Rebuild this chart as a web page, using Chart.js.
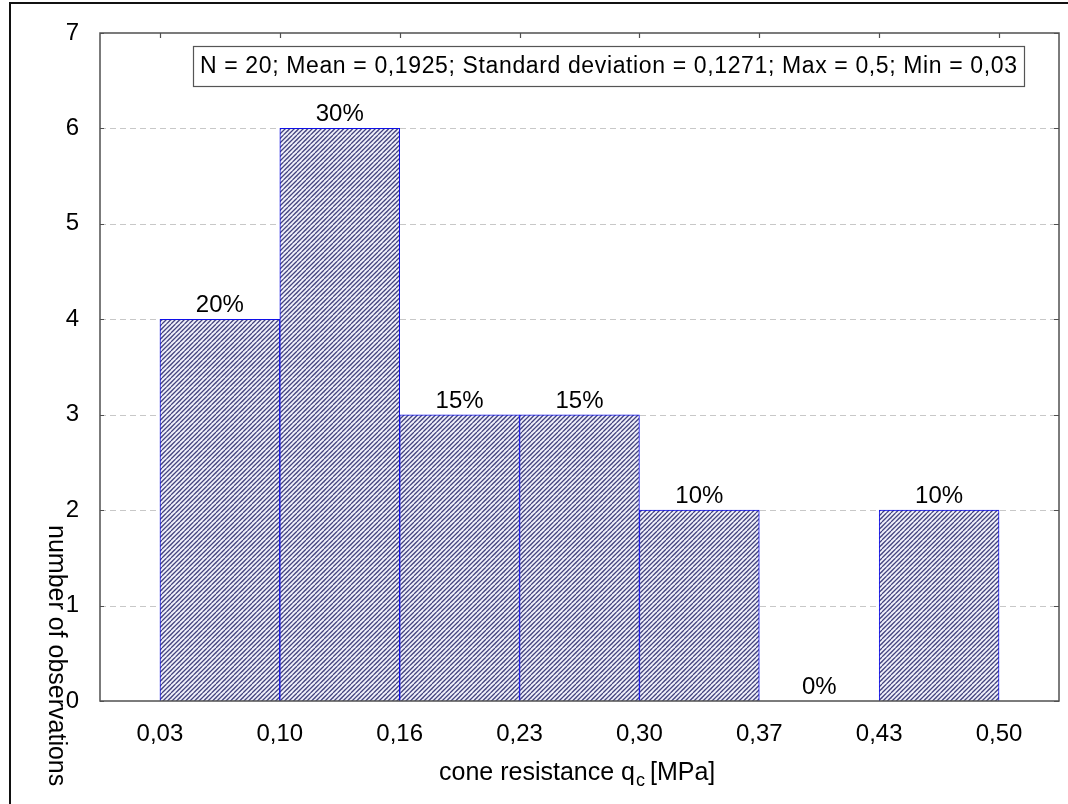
<!DOCTYPE html>
<html>
<head>
<meta charset="utf-8">
<script src="https://cdn.jsdelivr.net/npm/chart.js@4.4.1/dist/chart.umd.min.js"></script>
<style>
  html, body { margin: 0; padding: 0; background: #ffffff; }
  #wrap { width: 1068px; height: 804px; position: relative; }
</style>
</head>
<body>
<div id="wrap"><canvas id="hist" width="1068" height="804"></canvas></div>
<script>
// Histogram of cone resistance: bin edges, counts per bin, y ticks
const binEdgeLabels = ['0,03', '0,10', '0,16', '0,23', '0,30', '0,37', '0,43', '0,50'];
const binCounts = [4, 6, 3, 3, 2, 0, 2];
const yTickValues = [0, 1, 2, 3, 4, 5, 6, 7];
const statsText = 'N = 20; Mean = 0,1925; Standard deviation = 0,1271; Max = 0,5; Min = 0,03';
const xTitleMain = 'cone resistance q';
const xTitleSub = 'c';
const xTitleTail = '[MPa]';
const yTitle = 'number of observations';

const FONT = '"Liberation Sans", Arial, sans-serif';
const totalCount = binCounts.reduce((a, b) => a + b, 0);

// Diagonal hatch fill for the bars
function makeHatch() {
  const t = document.createElement('canvas');
  const s = 9;
  t.width = s; t.height = s;
  const c = t.getContext('2d');
  c.fillStyle = '#f1f1fb';
  c.fillRect(0, 0, s, s);
  c.strokeStyle = '#44447e';
  c.lineWidth = 1.25;
  for (let k = -s; k <= s; k += s / 2) {
    c.beginPath();
    c.moveTo(k, s);
    c.lineTo(k + s, 0);
    c.stroke();
  }
  return c.createPattern(t, 'repeat');
}

// Draws text char by char so it spans a given width
function drawSpread(ctx, text, x, y, width) {
  let natural = 0;
  for (const ch of text) natural += ctx.measureText(ch).width;
  const extra = text.length > 1 ? (width - natural) / (text.length - 1) : 0;
  let cx = x;
  for (const ch of text) {
    ctx.fillText(ch, cx, y);
    cx += ctx.measureText(ch).width + extra;
  }
}

const gridPlugin = {
  id: 'dashedGrid',
  beforeDatasetsDraw(chart) {
    const { ctx, chartArea, scales } = chart;
    ctx.save();
    ctx.strokeStyle = '#c8c8c8';
    ctx.lineWidth = 1;
    ctx.setLineDash([6, 4]);
    yTickValues.forEach(v => {
      if (v === yTickValues[0] || v === yTickValues[yTickValues.length - 1]) return;
      const y = Math.round(scales.y.getPixelForValue(v)) + 0.5;
      ctx.beginPath();
      ctx.moveTo(chartArea.left, y);
      ctx.lineTo(chartArea.right, y);
      ctx.stroke();
    });
    ctx.restore();
  }
};

const decorPlugin = {
  id: 'decor',
  afterDatasetsDraw(chart) {
    const { ctx, chartArea, scales } = chart;
    const L = chartArea.left, R = chartArea.right, T = chartArea.top, B = chartArea.bottom;
    ctx.save();

    // percentage labels above bars
    const meta = chart.getDatasetMeta(0);
    ctx.fillStyle = '#000';
    ctx.font = '24px ' + FONT;
    ctx.textAlign = 'center';
    ctx.textBaseline = 'alphabetic';
    meta.data.forEach((bar, i) => {
      const pct = Math.round(binCounts[i] / totalCount * 100) + '%';
      ctx.fillText(pct, bar.x, bar.y - 7);
    });

    // plot frame
    ctx.strokeStyle = '#505050';
    ctx.lineWidth = 1.5;
    ctx.strokeRect(L, T, R - L, B - T);

    // inward ticks
    ctx.lineWidth = 1.2;
    ctx.beginPath();
    binEdgeLabels.forEach((_, i) => {
      const x = Math.round(scales.x.getPixelForValue(i)) + 0.5;
      ctx.moveTo(x, T); ctx.lineTo(x, T + 5);
    });
    yTickValues.forEach(v => {
      const y = Math.round(scales.y.getPixelForValue(v)) + 0.5;
      ctx.moveTo(L, y); ctx.lineTo(L + 4, y);
      ctx.moveTo(R, y); ctx.lineTo(R - 5, y);
    });
    ctx.stroke();

    // statistics box
    const bx = 193, by = 46, bw = 831, bh = 40;
    ctx.fillStyle = '#fff';
    ctx.fillRect(bx, by, bw, bh);
    ctx.strokeStyle = '#555';
    ctx.lineWidth = 1.2;
    ctx.strokeRect(bx + 0.5, by + 0.5, bw, bh);
    ctx.fillStyle = '#000';
    ctx.font = '23px ' + FONT;
    ctx.textAlign = 'left';
    ctx.textBaseline = 'middle';
    drawSpread(ctx, statsText, 200, 67, 817);

    // x axis title with subscript
    ctx.textBaseline = 'alphabetic';
    ctx.font = '25px ' + FONT;
    const x0 = 439;
    ctx.fillText(xTitleMain, x0, 780);
    const wMain = ctx.measureText(xTitleMain).width;
    ctx.font = '18px ' + FONT;
    ctx.fillText(xTitleSub, x0 + wMain + 1, 786);
    const wSub = ctx.measureText(xTitleSub).width;
    ctx.font = '25px ' + FONT;
    ctx.fillText(xTitleTail, x0 + wMain + wSub + 6, 780);

    // y axis title, reading downwards
    ctx.translate(49, 525);
    ctx.rotate(Math.PI / 2);
    ctx.font = '25px ' + FONT;
    ctx.textBaseline = 'alphabetic';
    ctx.fillText(yTitle, 0, 0);
    ctx.restore();

    // outer border lines
    ctx.save();
    ctx.strokeStyle = '#111';
    ctx.lineWidth = 2;
    ctx.beginPath();
    ctx.moveTo(10, 804); ctx.lineTo(10, 3); ctx.lineTo(1068, 3);
    ctx.stroke();
    ctx.restore();
  }
};

const ctx = document.getElementById('hist').getContext('2d');
new Chart(ctx, {
  type: 'bar',
  data: {
    datasets: [{
      data: binCounts.map((c, i) => ({ x: i + 0.5, y: c })),
      backgroundColor: makeHatch(),
      borderColor: '#1010e8',
      borderWidth: 1,
      borderSkipped: 'start',
      barPercentage: 1,
      categoryPercentage: 1,
      grouped: false
    }]
  },
  options: {
    responsive: false,
    devicePixelRatio: 1,
    animation: false,
    events: [],
    layout: { padding: { top: 33, right: 9, left: 0, bottom: 0 } },
    plugins: { legend: { display: false }, tooltip: { enabled: false } },
    scales: {
      x: {
        type: 'linear',
        offset: false,
        min: -0.5,
        max: binEdgeLabels.length - 0.5,
        afterBuildTicks: s => { s.ticks = binEdgeLabels.map((_, i) => ({ value: i })); },
        afterFit: s => { s.height = 103; },
        grid: { display: false },
        border: { display: false },
        ticks: {
          callback: v => binEdgeLabels[v] ?? '',
          font: { size: 24, family: FONT },
          color: '#000',
          padding: 11,
          maxRotation: 0,
          autoSkip: false
        }
      },
      y: {
        min: 0,
        max: 7,
        afterBuildTicks: s => { s.ticks = yTickValues.map(v => ({ value: v })); },
        afterFit: s => { s.width = 100; },
        grid: { display: false },
        border: { display: false },
        ticks: {
          font: { size: 24, family: FONT },
          color: '#000',
          padding: 13
        }
      }
    }
  },
  plugins: [gridPlugin, decorPlugin]
});
</script>
</body>
</html>
